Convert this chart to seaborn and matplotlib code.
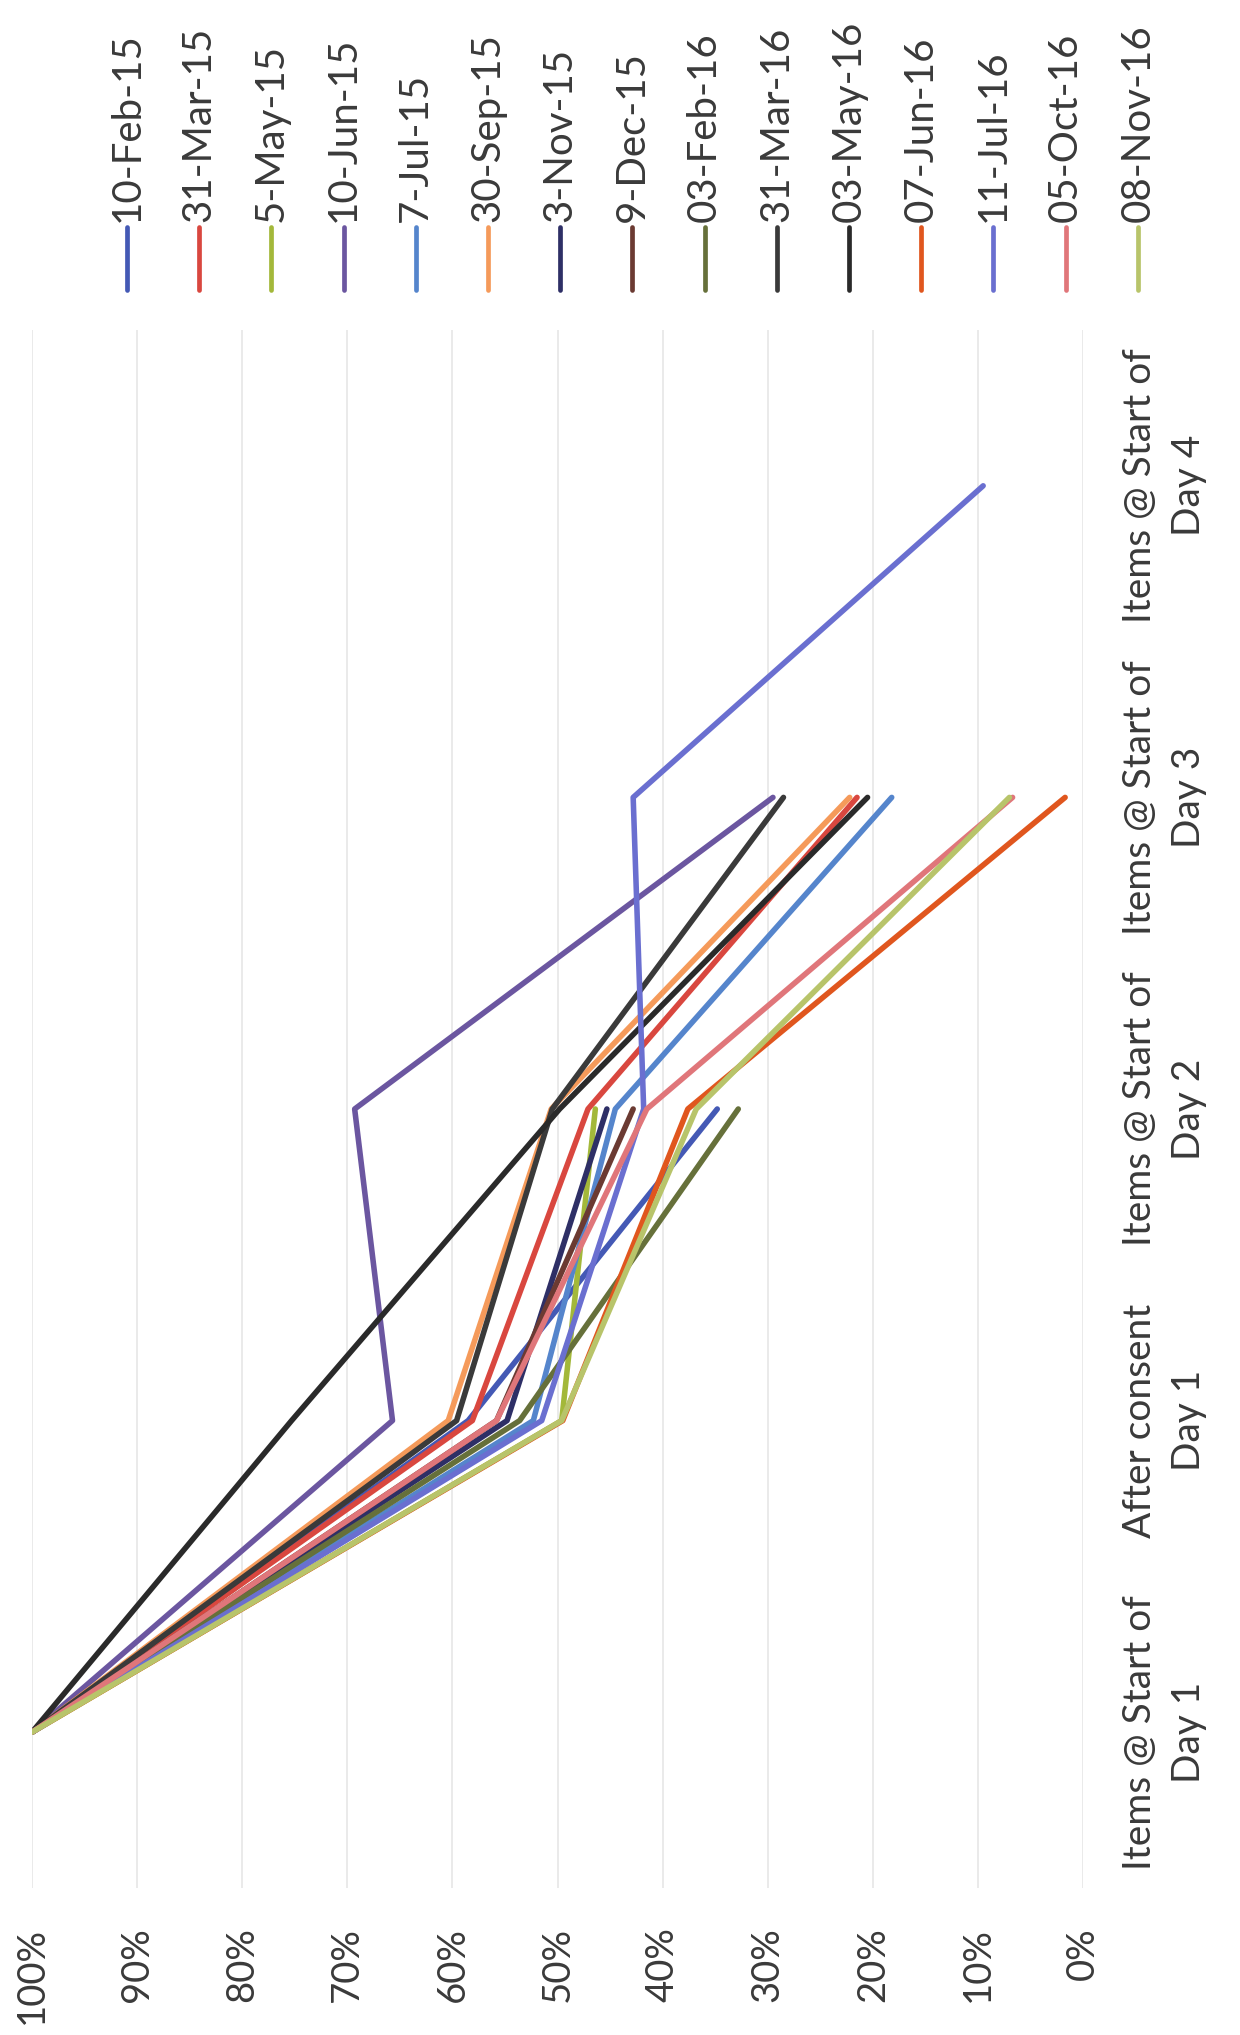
import numpy as np
import pandas as pd
import matplotlib.pyplot as plt
from matplotlib.lines import Line2D
import seaborn as sns

sns.set_theme(style="white")
plt.rcParams['font.family'] = ['Lato', 'DejaVu Sans']

# categories (the chart is printed rotated by 90 degrees)
stages = ['Items @ Start of\nDay 1', 'After consent\nDay 1',
          'Items @ Start of\nDay 2', 'Items @ Start of\nDay 3',
          'Items @ Start of\nDay 4']

series_names = ['10-Feb-15', '31-Mar-15', '5-May-15', '10-Jun-15', '7-Jul-15',
                '30-Sep-15', '3-Nov-15', '9-Dec-15', '03-Feb-16', '31-Mar-16',
                '03-May-16', '07-Jun-16', '11-Jul-16', '05-Oct-16', '08-Nov-16']

# percentage of items remaining at each stage (nan = no value)
feb15 = [100, 58.5, 34.8, np.nan, np.nan]
mar15 = [100, 58.1, 47.1, 21.5, np.nan]
may15 = [100, 49.6, 46.4, np.nan, np.nan]
jun15 = [100, 65.7, 69.3, 29.5, np.nan]
jul15 = [100, 52.3, 44.5, 18.2, np.nan]
sep15 = [100, 60.4, 50.6, 22.2, np.nan]
nov15 = [100, 54.8, 45.3, np.nan, np.nan]
dec15 = [100, 55.8, 42.8, np.nan, np.nan]
feb16 = [100, 53.6, 32.8, np.nan, np.nan]
mar16 = [100, 59.6, 50.5, 28.5, np.nan]
may16 = [100, 75.3, 49.8, 20.5, np.nan]
jun16 = [100, 49.5, 37.6, 1.7, np.nan]
jul16 = [100, 51.5, 41.8, 42.8, 9.5]
oct16 = [100, 55.8, 41.5, 6.7, np.nan]
nov16 = [100, 49.6, 36.8, 7.0, np.nan]

all_values = [feb15, mar15, may15, jun15, jul15, sep15, nov15, dec15,
              feb16, mar16, may16, jun16, jul16, oct16, nov16]

colors = ['#4459b5', '#d9473f', '#a3b83a', '#6b56a0', '#5585cc',
          '#f59a5a', '#2e2f66', '#6b3a32', '#66703a', '#3a3a3a',
          '#2a2a2a', '#e0561e', '#6a6fd0', '#e0767a', '#b8c46a']

rows = []
for name, vals in zip(series_names, all_values):
    for i, v in enumerate(vals):
        rows.append({'series': name, 'stage': i, 'pct': v})
df = pd.DataFrame(rows).dropna()

W, H = 1240, 2035
fig = plt.figure(figsize=(W / 100, H / 100), dpi=100)
left, right, top, bottom = 32, 1083, 330, 1888
ax = fig.add_axes([left / W, (H - bottom) / H, (right - left) / W, (bottom - top) / H])

sns.lineplot(data=df, x='pct', y='stage', hue='series', hue_order=series_names,
             palette=colors, orient='y', sort=False, estimator=None,
             legend=False, linewidth=4.0, ax=ax)

ax.set_xlim(100, 0)
ax.set_ylim(-0.5, 4.5)
ax.set_xlabel('')
ax.set_ylabel('')

text_color = '#3a3a3a'
ax.set_xticks(range(0, 101, 10))
ax.set_xticklabels([f'{v}%' for v in range(0, 101, 10)], rotation=90,
                   fontsize=27.5, color=text_color)
ax.tick_params(axis='x', length=0, pad=28)

ax.yaxis.tick_right()
ax.set_yticks(range(len(stages)))
ax.set_yticklabels(stages, rotation=90, ha='left', va='center',
                   multialignment='center', linespacing=1.45,
                   fontsize=28, color=text_color)
ax.tick_params(axis='y', length=0, pad=28)

ax.grid(axis='x', color='#e8e8e8', linewidth=1.3)
ax.grid(axis='y', visible=False)
for sp in ax.spines.values():
    sp.set_visible(False)

# legend, rotated along the top edge
for i, (name, col) in enumerate(zip(series_names, colors)):
    x = (127 + 72.2 * i) / W
    fig.add_artist(Line2D([x, x], [1 - 227 / H, 1 - 290 / H], color=col,
                          linewidth=3.4, transform=fig.transFigure))
    fig.text(x, 1 - 222 / H, name, rotation=90, ha='center', va='bottom',
             fontsize=29, color=text_color)

fig.savefig('out.png', dpi=100, facecolor='white')
